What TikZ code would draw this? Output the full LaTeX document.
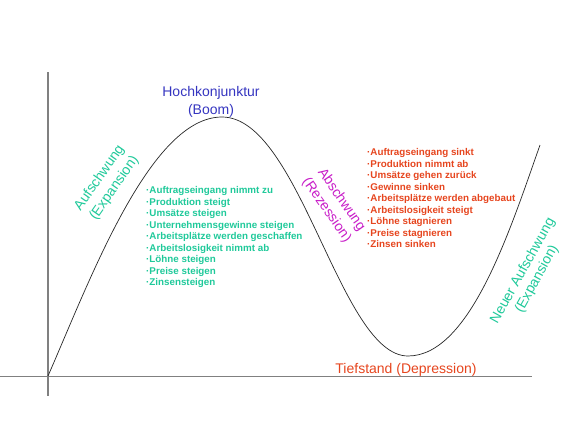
\documentclass[tikz,border=0pt]{standalone}
\usepackage{fontspec}
\setmainfont{Liberation Sans}
\definecolor{cblue}{HTML}{3535C0}
\definecolor{cgreen}{HTML}{1FC99A}
\definecolor{cmag}{HTML}{C81EC8}
\definecolor{cred}{HTML}{E6451E}
\definecolor{axisgray}{HTML}{808080}
\begin{document}
\begin{tikzpicture}[x=1pt,y=-1pt,
  axis/.style={axisgray, line width=1.4pt},
  wave/.style={black!85, line width=0.7pt},
  biglabel/.style={font=\fontsize{14}{18}\selectfont, inner sep=0pt, align=center},
  listtext/.style={font=\fontsize{9.8}{11.5}\selectfont\bfseries, inner sep=0pt, align=left, anchor=north west}]
\useasboundingbox (0,0) rectangle (582,429);
% axes
\coordinate (xs) at (0,376.5);
\coordinate (xe) at (532,376.5);
\coordinate (yt) at (48,72);
\coordinate (yb) at (48,396);
\draw[axis] (xs) -- (xe);
\draw[axis] (yt) -- (yb);
% business cycle curve
\coordinate (c0) at (48,376);
\coordinate (peak) at (222,117);
\coordinate (trough) at (408,356);
\coordinate (cend) at (540,145);
\draw[wave] (c0) .. controls (90,280) and (150,117) .. (peak)
  .. controls (300,117) and (340,356) .. (trough)
  .. controls (470,356) and (510,230) .. (cend);
% labels
\node[biglabel, text=cblue] (boom) at (211,102) {Hochkonjunktur\\(Boom)};
\node[biglabel, text=cgreen, rotate=55] (auf) at (107,183) {Aufschwung\\(Expansion)};
\node[biglabel, text=cmag, rotate=-55] (ab) at (334,205) {Abschwung\\(Rezession)};
\node[biglabel, text=cgreen, rotate=61, font=\fontsize{14}{16}\selectfont] (neu) at (530,275) {Neuer Aufschwung\\(Expansion)};
\node[biglabel, text=cred] (tief) at (406,370) {Tiefstand (Depression)};
% lists
\node[listtext, text=cgreen] (uplist) at (146,186.2) {%
·Auftragseingang nimmt zu\\
·Produktion steigt\\
·Umsätze steigen\\
·Unternehmensgewinne steigen\\
·Arbeitsplätze werden geschaffen\\
·Arbeitslosigkeit nimmt ab\\
·Löhne steigen\\
·Preise steigen\\
·Zinsensteigen};
\node[listtext, text=cred] (downlist) at (367,148.3) {%
·Auftragseingang sinkt\\
·Produktion nimmt ab\\
·Umsätze gehen zurück\\
·Gewinne sinken\\
·Arbeitsplätze werden abgebaut\\
·Arbeitslosigkeit steigt\\
·Löhne stagnieren\\
·Preise stagnieren\\
·Zinsen sinken};
\end{tikzpicture}
\end{document}
